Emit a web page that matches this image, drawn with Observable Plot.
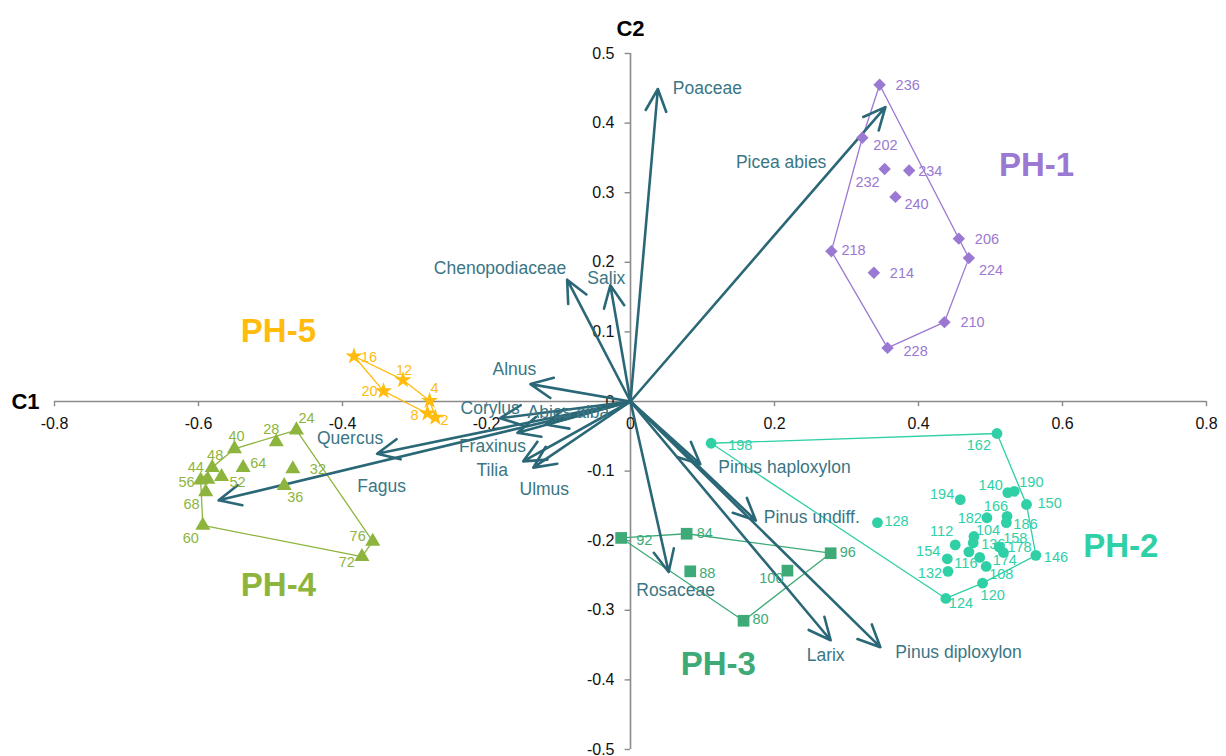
<!DOCTYPE html>
<html><head><meta charset="utf-8">
<script src="https://cdn.jsdelivr.net/npm/d3@7"></script>
<script src="https://cdn.jsdelivr.net/npm/@observablehq/plot@0.6"></script>
<style>body{margin:0;background:#fff;} #chart{width:1226px;height:756px;}</style>
</head><body><div id="chart"></div>
<script>
// ---------- data ----------
const xTicks = [-0.8, -0.6, -0.4, -0.2, 0, 0.2, 0.4, 0.6, 0.8];
const yTicks = [-0.5, -0.4, -0.3, -0.2, -0.1, 0, 0.1, 0.2, 0.3, 0.4, 0.5];

const ph1Ids = [236, 202, 232, 234, 240, 218, 214, 206, 224, 210, 228];
const ph1C1 = [0.346, 0.322, 0.353, 0.387, 0.368, 0.279, 0.338, 0.456, 0.470, 0.436, 0.357];
const ph1C2 = [0.455, 0.379, 0.334, 0.332, 0.294, 0.216, 0.185, 0.234, 0.206, 0.114, 0.077];

const ph2Ids = [198, 162, 140, 190, 150, 194, 166, 186, 182, 128, 104, 136, 112, 158, 178, 146, 154, 116, 174, 108, 132, 120, 124];
const ph2C1 = [0.112, 0.509, 0.524, 0.533, 0.550, 0.458, 0.523, 0.522, 0.495, 0.343, 0.477, 0.476, 0.451, 0.512, 0.518, 0.563, 0.440, 0.470, 0.485, 0.494, 0.441, 0.489, 0.438];
const ph2C2 = [-0.060, -0.046, -0.131, -0.129, -0.148, -0.141, -0.165, -0.174, -0.167, -0.174, -0.194, -0.203, -0.206, -0.209, -0.217, -0.221, -0.226, -0.216, -0.224, -0.237, -0.244, -0.261, -0.283];

const ph3Ids = [92, 84, 96, 88, 100, 80];
const ph3C1 = [-0.013, 0.078, 0.278, 0.083, 0.218, 0.157];
const ph3C2 = [-0.196, -0.190, -0.218, -0.244, -0.243, -0.315];

const ph4Ids = [24, 28, 40, 48, 64, 52, 44, 56, 68, 32, 36, 60, 76, 72];
const ph4C1 = [-0.464, -0.492, -0.550, -0.581, -0.538, -0.568, -0.587, -0.597, -0.590, -0.469, -0.481, -0.594, -0.358, -0.373];
const ph4C2 = [-0.041, -0.058, -0.068, -0.095, -0.095, -0.108, -0.112, -0.113, -0.130, -0.097, -0.121, -0.178, -0.201, -0.223];

const ph5Ids = [16, 12, 20, 4, 8, 2];
const ph5C1 = [-0.384, -0.316, -0.343, -0.279, -0.282, -0.271];
const ph5C2 = [0.065, 0.031, 0.015, 0.001, -0.017, -0.023];

const groupNames = ["PH-1", "PH-2", "PH-3", "PH-4", "PH-5"];
const groupLabelC1 = [0.564, 0.681, 0.122, -0.489, -0.489];
const groupLabelC2 = [0.339, -0.208, -0.378, -0.264, 0.101];

const taxa = ["Poaceae", "Picea abies", "Chenopodiaceae", "Salix", "Alnus", "Corylus", "Abies alba", "Fraxinus", "Tilia", "Ulmus", "Quercus", "Fagus", "Pinus haploxylon", "Pinus undiff.", "Larix", "Pinus diploxylon", "Rosaceae"];
const taxaC1 = [0.038, 0.354, -0.088, -0.028, -0.139, -0.181, -0.118, -0.157, -0.149, -0.135, -0.352, -0.572, 0.097, 0.174, 0.278, 0.347, 0.053];
const taxaC2 = [0.449, 0.423, 0.175, 0.167, 0.025, -0.024, -0.033, -0.045, -0.086, -0.095, -0.075, -0.142, -0.090, -0.171, -0.343, -0.353, -0.245];

// ---------- styles ----------
const groupColors = ["#9b78d2", "#30d0a6", "#3daa78", "#8db53e", "#ffbc0d"];
const groupSymbols = ["diamond2", "circle", "square", "triangle", "star"];
const groupR = [5.6, 5.4, 6.6, 5.6, 5.4];
const arrowColor = "#2b6877";
const taxaTextColor = "#3a7684";
const axisColor = "#8a8a8a";

// label placement [dx, dy, anchor]
const pointLabelPlace = {
  "PH-1": {236:[16,1,"start"],202:[11,8,"start"],232:[-5,13,"end"],234:[9,1,"start"],240:[9,7,"start"],218:[10,-1,"start"],214:[16,1,"start"],206:[16,1,"start"],224:[10,12,"start"],210:[16,0,"start"],228:[16,3,"start"]},
  "PH-2": {198:[17,2,"start"],162:[-6,12,"end"],140:[-5,-7,"end"],190:[5,-9,"start"],150:[11,-1,"start"],194:[-6,-5,"end"],166:[1,-10,"end"],186:[7,2,"start"],182:[-5,1,"end"],128:[7,-1,"start"],104:[2,-6,"start"],136:[8,2,"start"],112:[-2,-14,"end"],158:[4,-9,"start"],178:[4,-5,"start"],146:[8,2,"start"],154:[-7,-7,"end"],116:[-3,12,"middle"],174:[13,3,"start"],108:[3,8,"start"],132:[-6,2,"end"],120:[-2,12,"start"],124:[3,5,"start"]},
  "PH-3": {92:[15,2,"start"],84:[10,0,"start"],96:[9,-1,"start"],88:[9,2,"start"],100:[-4,8,"end"],80:[9,-1,"start"]},
  "PH-4": {24:[2,-12,"start"],28:[-5,-13,"middle"],40:[2,-12,"middle"],48:[3,-12,"middle"],64:[7,-4,"start"],52:[8,6,"start"],44:[-4,-12,"end"],56:[-6,2,"end"],68:[-6,12,"end"],32:[17,0,"start"],36:[3,12,"start"],60:[-4,13,"end"],76:[-7,-5,"end"],72:[-7,6,"end"]},
  "PH-5": {16:[7,1,"start"],12:[1,-10,"middle"],20:[-6,0,"end"],4:[1,-12,"start"],8:[-9,2,"end"],2:[5,3,"start"]}
};
const taxaLabelPlace = {
  "Poaceae":[15,-1,"start"], "Picea abies":[-59,55,"end"], "Chenopodiaceae":[-1,-11,"end"], "Salix":[-4,-7,"middle"],
  "Alnus":[-16,-15,"middle"], "Corylus":[-10,-10,"middle"], "Abies alba":[-18,-12,"start"], "Fraxinus":[-25,14,"middle"],
  "Tilia":[-31,9,"middle"], "Ulmus":[11,22,"middle"], "Quercus":[-27,-15,"middle"], "Fagus":[163,-14,"middle"],
  "Pinus haploxylon":[18,3,"start"], "Pinus undiff.":[8,-3,"start"], "Larix":[-5,15,"middle"], "Pinus diploxylon":[15,5,"start"],
  "Rosaceae":[7,18,"middle"]
};

// ---------- build tables ----------
const groupsRaw = [[ph1Ids, ph1C1, ph1C2], [ph2Ids, ph2C1, ph2C2], [ph3Ids, ph3C1, ph3C2], [ph4Ids, ph4C1, ph4C2], [ph5Ids, ph5C1, ph5C2]];
const groups = groupsRaw.map(([ids, c1, c2], g) => ids.map((id, i) => ({id, c1: c1[i], c2: c2[i], group: groupNames[g]})));
const taxaData = taxa.map((name, i) => ({name, c1: taxaC1[i], c2: taxaC2[i]}));
const groupLabels = groupNames.map((name, i) => ({name, c1: groupLabelC1[i], c2: groupLabelC2[i], color: groupColors[i]}));

const marks = [];
// axes
marks.push(Plot.ruleY([0], {x1: -0.8, x2: 0.8, stroke: axisColor, strokeWidth: 1.6}));
marks.push(Plot.ruleX([0], {y1: -0.5, y2: 0.5, stroke: axisColor, strokeWidth: 1.6}));
marks.push(Plot.ruleX(xTicks, {x: d => d, y1: 0, y2: -0.0075, stroke: axisColor, strokeWidth: 1.4}));
marks.push(Plot.ruleY(yTicks, {y: d => d, x1: -0.0075, x2: 0, stroke: axisColor, strokeWidth: 1.4}));
marks.push(Plot.text(xTicks, {x: d => d, y: 0, dy: 22, text: d => String(d), fontSize: 16, fill: "#111"}));
marks.push(Plot.text(yTicks, {x: 0, y: d => d, dx: -16, text: d => String(d), fontSize: 16, fill: "#111", textAnchor: "end"}));
marks.push(Plot.text(["C1"], {x: -0.8, y: 0, dx: -29, text: d => d, fontSize: 22, fontWeight: "bold", fill: "#000"}));
marks.push(Plot.text(["C2"], {x: 0, y: 0.5, dy: -25, text: d => d, fontSize: 22, fontWeight: "bold", fill: "#000"}));

// hulls
groups.forEach((data, g) => {
  marks.push(Plot.hull(data, {x: "c1", y: "c2", stroke: groupColors[g], strokeWidth: 1.3, fill: "none"}));
});

// arrows
marks.push(Plot.arrow(taxaData, {x1: 0, y1: 0, x2: "c1", y2: "c2", stroke: arrowColor, strokeWidth: 2.6, headLength: 14, headAngle: 50}));

// points
groups.forEach((data, g) => {
  marks.push(Plot.dot(data, {x: "c1", y: "c2", symbol: groupSymbols[g], r: groupR[g], fill: groupColors[g], stroke: "none"}));
});

// point labels
groups.forEach((data, g) => {
  const place = pointLabelPlace[groupNames[g]];
  data.forEach(d => {
    const [dx, dy, anchor] = place[d.id] || [10, 0, "start"];
    marks.push(Plot.text([d], {x: "c1", y: "c2", text: "id", dx, dy, textAnchor: anchor, fontSize: 14.5, fill: groupColors[g]}));
  });
});

// taxa labels
taxaData.forEach(d => {
  const [dx, dy, anchor] = taxaLabelPlace[d.name];
  marks.push(Plot.text([d], {x: "c1", y: "c2", text: "name", dx, dy, textAnchor: anchor, fontSize: 17.5, fill: taxaTextColor}));
});

// group labels
groupLabels.forEach(d => {
  marks.push(Plot.text([d], {x: "c1", y: "c2", text: "name", fontSize: 33, fontWeight: "bold", fill: d.color}));
});

const chart = Plot.plot({
  width: 1226,
  height: 756,
  marginLeft: 54,
  marginRight: 20,
  marginTop: 53,
  marginBottom: 7,
  style: {fontFamily: "'Liberation Sans', Arial, sans-serif", background: "#fff", overflow: "visible"},
  x: {domain: [-0.8, 0.8], axis: null},
  y: {domain: [-0.5, 0.5], axis: null},
  marks
});
document.getElementById("chart").appendChild(chart);
</script>
</body></html>
